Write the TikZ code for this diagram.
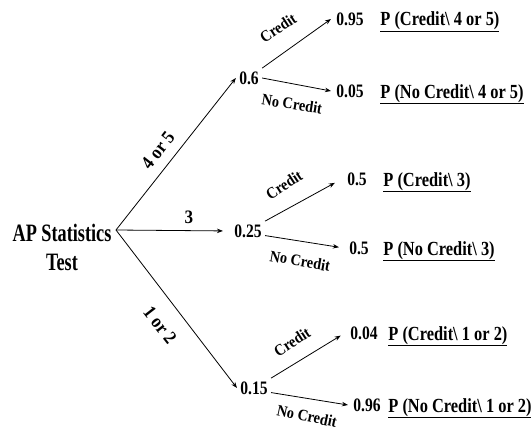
\documentclass[tikz,border=0pt]{standalone}
\usepackage{fontspec}
\setmainfont{Liberation Serif}[FakeStretch=0.82]
\newfontfamily\lblfont{Liberation Serif}[FakeStretch=0.9]
\newfontfamily\rootfont{Liberation Serif}[FakeStretch=0.73]
\usetikzlibrary{arrows.meta}

\begin{document}
\begin{tikzpicture}[x=1pt,y=-1pt,line width=0.8pt,>={Stealth[length=6pt,width=4.5pt]},
  num/.style={font=\fontsize{19}{22}\selectfont\bfseries,inner sep=3pt},
  leaf/.style={font=\fontsize{19}{22}\selectfont\bfseries,inner sep=5pt},
  plbl/.style={font=\fontsize{20}{24}\selectfont\bfseries,anchor=base west,inner sep=0pt},
  brlbl/.style={font=\lblfont\fontsize{16}{19}\selectfont\bfseries,inner sep=0pt},
  stlbl/.style={font=\lblfont\fontsize{19}{22}\selectfont\bfseries,inner sep=0pt}]
\useasboundingbox (0,0) rectangle (531,431);
\node[align=center,font=\rootfont\fontsize{25}{29}\selectfont\bfseries,inner sep=0pt] (root) at (62,247) {AP Statistics\\Test};
\coordinate (fork) at (116,230);
\node[num] (n6) at (249,78) {0.6};
\node[num] (n25) at (248,231) {0.25};
\node[num] (n15) at (254,388) {0.15};
\node[leaf] (p95) at (350,19) {0.95};
\node[leaf] (p05) at (350,91) {0.05};
\node[leaf] (p5a) at (357,179) {0.5};
\node[leaf] (p5b) at (359,248) {0.5};
\node[leaf] (p04) at (364,333) {0.04};
\node[leaf] (p96) at (367,405) {0.96};
\node[plbl] (c95) at (380,26) {\underline{P (Credit\textbackslash{} 4 or 5)}};
\node[plbl] (c05) at (380,98) {\underline{P (No Credit\textbackslash{} 4 or 5)}};
\node[plbl] (c5a) at (383,186) {\underline{P (Credit\textbackslash{} 3)}};
\node[plbl] (c5b) at (383,255) {\underline{P (No Credit\textbackslash{} 3)}};
\node[plbl] (c04) at (388,340) {\underline{P (Credit\textbackslash{} 1 or 2)}};
\node[plbl] (c96) at (388,412) {\underline{P (No Credit\textbackslash{} 1 or 2)}};
\draw[->] (fork) -- (n6.west);
\draw[->,shorten >=8pt] (fork) -- (n25.west);
\draw[->] (fork) -- (n15.west);
\draw[->] (n6.north east) -- (p95.west);
\draw[->] (n6.east) -- (p05.west);
\draw[->,shorten >=8pt] (n25.north east) -- (p5a.west);
\draw[->,shorten >=5pt] (n25.-15) -- (p5b.west);
\draw[->,shorten >=5pt] (n15.north east) -- (p04.west);
\draw[->] (n15.-15) -- (p96.west);
\node[stlbl,rotate=52] (s45) at (158,150) {4 or 5};
\node[stlbl] (s3) at (189,217) {3};
\node[stlbl,rotate=-52] (s12) at (160,325) {1 or 2};
\node[brlbl,rotate=33] (cr1) at (278,28) {Credit};
\node[brlbl,rotate=-9] (nc1) at (292,104) {No Credit};
\node[brlbl,rotate=33] (cr2) at (284,185) {Credit};
\node[brlbl,rotate=-10] (nc2) at (300,261) {No Credit};
\node[brlbl,rotate=33] (cr3) at (292,342) {Credit};
\node[brlbl,rotate=-12] (nc3) at (307,416) {No Credit};
\end{tikzpicture}
\end{document}
